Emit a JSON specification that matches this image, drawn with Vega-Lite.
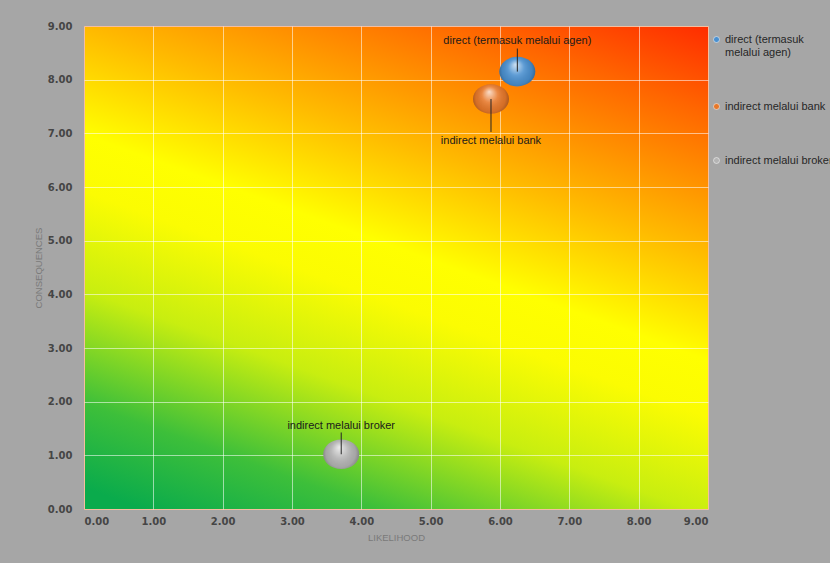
{
  "$schema": "https://vega.github.io/schema/vega-lite/v6.json",
  "width": 624,
  "height": 483,
  "autosize": "none",
  "padding": {"left": 84, "top": 26, "right": 122, "bottom": 54},
  "background": "#a6a6a6",
  "config": {
    "view": {
      "stroke": "#e8702a",
      "strokeWidth": 1,
      "fill": {
        "gradient": "linear",
        "x1": 0.22, "y1": 1.058, "x2": 0.78, "y2": -0.142,
        "stops": [
          {"offset": 0, "color": "#0aab4c"},
          {"offset": 0.12, "color": "#3dbf3a"},
          {"offset": 0.28, "color": "#c8ee10"},
          {"offset": 0.42, "color": "#fbfc02"},
          {"offset": 0.5, "color": "#ffff00"},
          {"offset": 0.65, "color": "#ffbb00"},
          {"offset": 0.85, "color": "#ff6600"},
          {"offset": 1, "color": "#ff2000"}
        ]
      }
    },
    "axis": {
      "grid": true,
      "gridColor": "#ffffff",
      "gridOpacity": 0.55,
      "gridWidth": 1,
      "domain": false,
      "ticks": false,
      "labelFont": "DejaVu Sans",
      "labelFontWeight": "bold",
      "labelFontSize": 10,
      "labelColor": "#454545",
      "titleFont": "Liberation Sans",
      "titleFontSize": 9.5,
      "titleFontWeight": "normal",
      "titleColor": "#7a7a7a"
    }
  },
  "data": {
    "values": [
      {"series": "direct (termasuk melalui agen)", "likelihood": 6.25, "consequences": 8.15},
      {"series": "indirect melalui bank", "likelihood": 5.87, "consequences": 7.64},
      {"series": "indirect melalui broker", "likelihood": 3.71, "consequences": 1.02}
    ]
  },
  "encoding": {
    "x": {
      "field": "likelihood", "type": "quantitative",
      "scale": {"domain": [0, 9], "nice": false, "zero": false},
      "axis": {"values": [0,1,2,3,4,5,6,7,8,9], "format": ".2f", "title": "LIKELIHOOD", "labelPadding": 7, "titlePadding": 6}
    },
    "y": {
      "field": "consequences", "type": "quantitative",
      "scale": {"domain": [0, 9], "nice": false, "zero": false},
      "axis": {"values": [0,1,2,3,4,5,6,7,8,9], "format": ".2f", "title": "CONSEQUENCES", "labelPadding": 12, "titlePadding": 4}
    }
  },
  "layer": [
    {
      "mark": {
        "type": "point",
        "filled": true,
        "opacity": 1,
        "size": 1296,
        "shape": "M -1 0 A 1 0.82 0 1 1 1 0 A 1 0.82 0 1 1 -1 0 Z"
      },
      "encoding": {
        "fill": {
          "field": "series", "type": "nominal",
          "scale": {
            "domain": ["direct (termasuk melalui agen)", "indirect melalui bank", "indirect melalui broker"],
            "range": ["#4a90d0", "#e7782a", "#b4b4b4"]
          },
          "legend": {
            "title": null,
            "orient": "none",
            "legendX": 627,
            "legendY": 8,
            "padding": 0,
            "symbolType": "circle",
            "symbolSize": 36,
            "symbolOpacity": 1,
            "symbolStrokeColor": "#ffffff",
            "symbolStrokeWidth": 0.5,
            "labelFont": "Liberation Sans",
            "labelFontSize": 11,
            "labelColor": "#262626",
            "labelOffset": 3,
            "labelLimit": 200,
            "rowPadding": 42,
            "labelExpr": "datum.label == 'direct (termasuk melalui agen)' ? ['direct (termasuk', 'melalui agen)'] : datum.label"
          }
        }
      }
    },
    {
      "mark": {
        "type": "point",
        "filled": true,
        "opacity": 1,
        "size": 1296,
        "shape": "M -1 0 A 1 0.82 0 1 1 1 0 A 1 0.82 0 1 1 -1 0 Z",
        "fill": {
          "gradient": "radial",
          "x1": 0.45, "y1": 0.3, "r1": 0,
          "x2": 0.5, "y2": 0.5, "r2": 0.55,
          "stops": [
            {"offset": 0, "color": "rgba(255,255,255,0.75)"},
            {"offset": 0.4, "color": "rgba(255,255,255,0.12)"},
            {"offset": 0.75, "color": "rgba(0,0,0,0.08)"},
            {"offset": 1, "color": "rgba(0,0,0,0.35)"}
          ]
        }
      },
      "encoding": {}
    },
    {
      "transform": [{"filter": "datum.series == 'direct (termasuk melalui agen)'"}],
      "mark": {"type": "point", "filled": false, "size": 4356, "shape": "M 0 0 L 0 -0.7", "color": "#262626", "strokeWidth": 1, "opacity": 1},
      "encoding": {}
    },
    {
      "transform": [{"filter": "datum.series == 'indirect melalui bank'"}],
      "mark": {"type": "point", "filled": false, "size": 4356, "shape": "M 0 0 L 0 1", "color": "#262626", "strokeWidth": 1, "opacity": 1},
      "encoding": {}
    },
    {
      "transform": [{"filter": "datum.series == 'indirect melalui broker'"}],
      "mark": {"type": "point", "filled": false, "size": 4356, "shape": "M 0 0 L 0 -0.66", "color": "#262626", "strokeWidth": 1, "opacity": 1},
      "encoding": {}
    },
    {
      "transform": [{"filter": "datum.series == 'direct (termasuk melalui agen)'"}],
      "mark": {"type": "text", "font": "Liberation Sans", "fontSize": 11, "color": "#1a1a1a", "baseline": "middle", "dy": -31},
      "encoding": {"text": {"field": "series"}}
    },
    {
      "transform": [{"filter": "datum.series == 'indirect melalui bank'"}],
      "mark": {"type": "text", "font": "Liberation Sans", "fontSize": 11, "color": "#1a1a1a", "baseline": "middle", "dy": 42},
      "encoding": {"text": {"field": "series"}}
    },
    {
      "transform": [{"filter": "datum.series == 'indirect melalui broker'"}],
      "mark": {"type": "text", "font": "Liberation Sans", "fontSize": 11, "color": "#1a1a1a", "baseline": "middle", "dy": -28},
      "encoding": {"text": {"field": "series"}}
    }
  ]
}
